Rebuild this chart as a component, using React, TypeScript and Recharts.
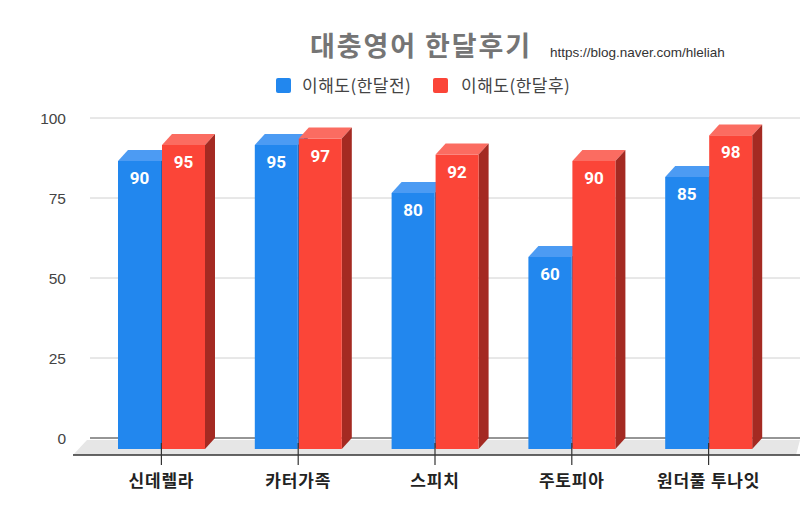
import { Bar, BarChart, CartesianGrid, LabelList, ReferenceArea, XAxis, YAxis } from "recharts";

const categories = ["신데렐라", "카터가족", "스피치", "주토피아", "원더풀 투나잇"];
const beforeScores = [90, 95, 80, 60, 85];
const afterScores = [95, 97, 92, 90, 98];
const yTicks = [0, 25, 50, 75, 100];

const data = categories.map((name, i) => ({ name, before: beforeScores[i], after: afterScores[i] }));

// 3d depth offset (front face is shifted left/down from the back plane)
const DX = 10;
const DY = 11;
// x axis padding; the floor reaches out over it
const PAD = 13;

const BLUE = { front: "#2287ee", top: "#4c9bf3", side: "#1b64b5" };
const RED = { front: "#fb4538", top: "#fb6c61", side: "#a42a22" };

function makeBar3d(c: { front: string; top: string; side: string }) {
  return (props: any) => {
    const { x, y, width, height } = props;
    if (!height || height <= 0) return <g />;
    const fx = x - DX;
    const fy = y + DY;
    return (
      <g>
        <polygon points={`${fx},${fy} ${x},${y} ${x + width},${y} ${fx + width},${fy}`} fill={c.top} />
        <polygon
          points={`${fx + width},${fy} ${x + width},${y} ${x + width},${y + height} ${fx + width},${fy + height}`}
          fill={c.side}
        />
        <rect x={fx} y={fy} width={width} height={height} fill={c.front} />
      </g>
    );
  };
}

const valueLabel = (props: any) => {
  const { x, y, width, value } = props;
  return (
    <text
      x={x - DX + width / 2}
      y={y + DY + 17}
      textAnchor="middle"
      dominantBaseline="central"
      fill="#fff"
      fontSize={17}
      fontWeight="bold"
      fontFamily="Roboto, 'Liberation Sans', sans-serif"
    >
      {value}
    </text>
  );
};

const Floor = (props: any) => {
  const { x, y, width, height } = props;
  const base = y + height;
  const depth = 17;
  const slant = 17;
  const left = x - PAD;
  const right = x + width + PAD;
  return (
    <g>
      <polygon
        points={`${left - 3},${base + 2} ${right},${base + 2} ${right - 4},${base + depth} ${left - slant},${base + depth}`}
        fill="#e6e6e6"
      />
      <line x1={left} x2={right} y1={base} y2={base} stroke="#444" strokeWidth={1.2} />
      <line x1={left - slant} x2={right} y1={base + depth} y2={base + depth} stroke="#333" strokeWidth={1.4} />
    </g>
  );
};

const CategoryTick = (props: any) => {
  const { x, y, payload } = props;
  return (
    <g>
      <line x1={x - DX} x2={x - DX} y1={y + 5} y2={y + 27} stroke="#333" strokeWidth={1.2} />
      <text
        x={x - DX}
        y={y + 41}
        textAnchor="middle"
        dominantBaseline="central"
        fill="#222"
        fontSize={17}
        fontWeight="bold"
        letterSpacing={0.8}
        fontFamily="'Noto Sans CJK KR', sans-serif"
      >
        {payload.value}
      </text>
    </g>
  );
};

export default function App() {
  return (
    <div
      style={{
        position: "absolute",
        left: 0,
        top: 0,
        width: 800,
        height: 532,
        background: "#fff",
        fontFamily: "'Noto Sans CJK KR', sans-serif",
      }}
    >
      <div
        style={{
          position: "absolute",
          left: 310,
          top: 27,
          height: 36,
          lineHeight: "36px",
          fontSize: 27,
          letterSpacing: 1.9,
          fontWeight: "bold",
          color: "#757575",
          whiteSpace: "nowrap",
        }}
      >
        대충영어 한달후기
      </div>
      <div
        style={{
          position: "absolute",
          left: 550,
          top: 44,
          height: 18,
          lineHeight: "18px",
          fontSize: 13.5,
          color: "#333",
          fontFamily: "'Liberation Sans', Arial, sans-serif",
          whiteSpace: "nowrap",
        }}
      >
        https://blog.naver.com/hleliah
      </div>
      <div style={{ position: "absolute", left: 276, top: 78, width: 15, height: 15, borderRadius: 2, background: BLUE.front }} />
      <div
        style={{
          position: "absolute",
          left: 302,
          top: 74,
          lineHeight: "22px",
          fontSize: 17,
          letterSpacing: 0.5,
          color: "#444",
          whiteSpace: "nowrap",
        }}
      >
        이해도(한달전)
      </div>
      <div style={{ position: "absolute", left: 433, top: 78, width: 15, height: 15, borderRadius: 2, background: RED.front }} />
      <div
        style={{
          position: "absolute",
          left: 461,
          top: 74,
          lineHeight: "22px",
          fontSize: 17,
          letterSpacing: 0.5,
          color: "#444",
          whiteSpace: "nowrap",
        }}
      >
        이해도(한달후)
      </div>
      <BarChart
        width={800}
        height={532}
        data={data}
        margin={{ top: 118, right: 0, bottom: 64, left: 0 }}
        barSize={43}
        barGap={1}
      >
        <CartesianGrid vertical={false} stroke="#d0d0d0" />
        <ReferenceArea y1={0} y2={1} ifOverflow="visible" shape={Floor} />
        <XAxis
          dataKey="name"
          padding={{ left: PAD, right: PAD }}
          axisLine={false}
          tickLine={false}
          tickSize={0}
          tickMargin={0}
          height={30}
          interval={0}
          tick={CategoryTick}
        />
        <YAxis
          width={90}
          domain={[0, 100]}
          ticks={yTicks}
          axisLine={false}
          tickLine={false}
          tickSize={0}
          tickMargin={24}
          tick={{ fill: "#444", fontSize: 15.5, fontFamily: "'Liberation Sans', Arial, sans-serif" }}
        />
        <Bar dataKey="before" name="이해도(한달전)" fill={BLUE.front} shape={makeBar3d(BLUE)} isAnimationActive={false}>
          <LabelList dataKey="before" content={valueLabel} />
        </Bar>
        <Bar dataKey="after" name="이해도(한달후)" fill={RED.front} shape={makeBar3d(RED)} isAnimationActive={false}>
          <LabelList dataKey="after" content={valueLabel} />
        </Bar>
      </BarChart>
    </div>
  );
}
